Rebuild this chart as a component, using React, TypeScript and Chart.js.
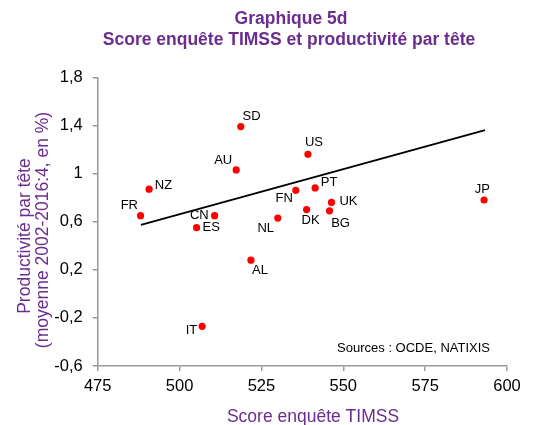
import React, { useEffect, useRef } from 'react';
import { Chart, registerables } from 'chart.js';

Chart.register(...registerables);

// ---- Data ----
const countries = ['SD', 'AU', 'NZ', 'FR', 'CN', 'ES', 'NL', 'FN', 'US', 'PT', 'DK', 'UK', 'BG', 'JP', 'AL', 'IT'];
const timssScore = [518.7, 517.3, 490.7, 488.1, 510.7, 505.2, 530.0, 535.5, 539.2, 541.4, 538.8, 546.4, 545.8, 593.0, 521.8, 506.9];
const productivity = [1.39, 1.03, 0.87, 0.65, 0.65, 0.55, 0.63, 0.86, 1.16, 0.88, 0.70, 0.76, 0.69, 0.78, 0.28, -0.27];
const trendX = [488.2, 593.3];
const trendY = [0.573, 1.361];
const xTickRange = [475, 600, 25];
const yTickRange = [-0.6, 1.8, 0.4];

const titleLines = ['Graphique 5d', 'Score enquête TIMSS et productivité par tête'];
const xAxisTitle = 'Score enquête TIMSS';
const yAxisTitleLines = ['Productivité par tête', '(moyenne 2002-2016:4, en %)'];
const sourceText = 'Sources : OCDE, NATIXIS';

// ---- Style: label offsets (px) relative to each point ----
const labelOffsets: Record<string, [number, number]> = {
  SD: [10.7, -10], AU: [-13, -10], NZ: [14.3, -3.3], FR: [-11.3, -10],
  CN: [-15.3, 0], ES: [14.7, 0], NL: [-12, 10], FN: [-11.7, 7.7],
  US: [6, -12.3], PT: [14, -6], DK: [4, 11.3], UK: [17, -1],
  BG: [11, 12.4], JP: [-1.7, -10.4], AL: [9, 10], IT: [-10.7, 4.3],
};

const PURPLE = '#6B2D8F';
const FONT = "'Liberation Sans', Arial, sans-serif";
const AXIS = '#9a9a9a';

const textPlugin = {
  id: 'textPlugin',
  afterDatasetsDraw(chart: any) {
    const ctx = chart.ctx;
    const meta = chart.getDatasetMeta(1);
    ctx.save();
    ctx.fillStyle = '#000';
    ctx.font = `13px ${FONT}`;
    ctx.textAlign = 'center';
    ctx.textBaseline = 'middle';
    meta.data.forEach((el: any, i: number) => {
      const off = labelOffsets[countries[i]] || [0, 0];
      ctx.fillText(countries[i], el.x + off[0], el.y + off[1]);
    });
    ctx.restore();
  },
  afterDraw(chart: any) {
    const ctx = chart.ctx;
    ctx.save();
    // Title
    ctx.fillStyle = PURPLE;
    ctx.font = `bold 17.5px ${FONT}`;
    ctx.textAlign = 'center';
    ctx.textBaseline = 'alphabetic';
    ctx.fillText(titleLines[0], 291, 24);
    ctx.fillText(titleLines[1], 289, 44.5);
    // X axis title
    ctx.font = `17.5px ${FONT}`;
    ctx.fillText(xAxisTitle, 313, 422);
    // Y axis title
    ctx.save();
    ctx.rotate(-Math.PI / 2);
    ctx.textBaseline = 'middle';
    ctx.fillText(yAxisTitleLines[0], -236, 25.5);
    ctx.fillText(yAxisTitleLines[1], -230, 43.5);
    ctx.restore();
    // Sources
    ctx.fillStyle = '#000';
    ctx.font = `13px ${FONT}`;
    ctx.textAlign = 'right';
    ctx.textBaseline = 'middle';
    ctx.fillText(sourceText, 490, 348);
    ctx.restore();
  },
};

function fmt(v: number) {
  const r = Math.round(v * 10) / 10;
  return String(r).replace('.', ',');
}

export default function App() {
  const ref = useRef<HTMLCanvasElement>(null);
  useEffect(() => {
    if (!ref.current) return;
    const points = timssScore.map((x, i) => ({ x, y: productivity[i] }));
    const trend = trendX.map((x, i) => ({ x, y: trendY[i] }));
    const chart = new Chart(ref.current, {
      type: 'scatter',
      data: {
        datasets: [
          {
            type: 'line',
            label: 'Tendance',
            data: trend,
            borderColor: '#000',
            borderWidth: 2,
            pointRadius: 0,
            fill: false,
            order: 2,
          } as any,
          {
            label: 'Pays',
            data: points,
            backgroundColor: '#FF0000',
            borderWidth: 0,
            pointRadius: 3.6,
            order: 1,
          },
        ],
      },
      options: {
        responsive: false,
        animation: false,
        layout: { padding: { top: 77.3, right: 32, left: 0, bottom: 0 } },
        plugins: {
          legend: { display: false },
          title: { display: false },
          tooltip: { enabled: false },
        },
        scales: {
          x: {
            type: 'linear',
            min: xTickRange[0],
            max: xTickRange[1],
            ticks: {
              stepSize: xTickRange[2],
              color: '#000',
              font: { size: 16.5, family: FONT },
              padding: 6,
              maxRotation: 0,
            },
            grid: { drawOnChartArea: false, drawTicks: true, tickLength: 5, color: AXIS, lineWidth: 1.5 },
            border: { color: AXIS, width: 1.5 },
            afterFit(scale: any) {
              scale.height = 59;
            },
          },
          y: {
            type: 'linear',
            min: yTickRange[0],
            max: yTickRange[1],
            ticks: {
              stepSize: yTickRange[2],
              color: '#000',
              font: { size: 16.5, family: FONT },
              padding: 10,
              callback: (v: any) => fmt(Number(v)),
            },
            grid: { drawOnChartArea: false, drawTicks: true, tickLength: 5, color: AXIS, lineWidth: 1.5 },
            border: { color: AXIS, width: 1.5 },
            afterFit(scale: any) {
              scale.width = 97.7;
            },
          },
        },
      },
      plugins: [textPlugin],
    });
    return () => chart.destroy();
  }, []);
  return (
    <div style={{ position: 'absolute', left: 0, top: 0, width: 539, height: 425, background: '#fff' }}>
      <canvas ref={ref} width={539} height={425} style={{ display: 'block' }} />
    </div>
  );
}
